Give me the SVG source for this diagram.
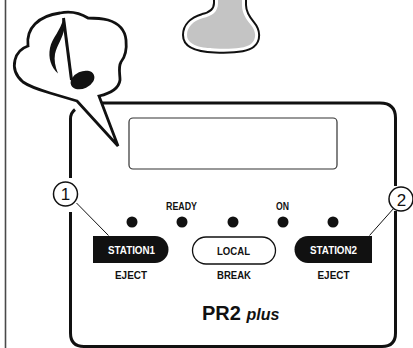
<svg xmlns="http://www.w3.org/2000/svg" width="413" height="348" viewBox="0 0 413 348">
  <defs>
    <style>
      .lbl { font-family: "Liberation Sans", Arial, sans-serif; font-weight: bold; font-size: 11px; text-anchor: middle; }
      .small { font-size: 10px; }
      .dot { fill: #111; }
      .num { font-family: "Liberation Sans", Arial, sans-serif; font-size: 17px; text-anchor: middle; fill: #111; }
      .callout { fill: #fff; stroke: #111; stroke-width: 1.5; }
      .leader { stroke: #111; stroke-width: 1; fill: none; }
    </style>
    <path id="body-shape" d="M 218,-6 L 218,3 C 218,12 212,16 203,18 C 193,21 187,27 187,35 C 187,44 198,48 215,48.5 C 228,49 245,49 251,44 C 257,39 256,31 251,25 C 246,19 242,13 242,5 L 242,-6 Z"/>
  </defs>

  <!-- frame line at the left edge -->
  <line x1="5.5" y1="0" x2="5.5" y2="348" stroke="#4a4a4a" stroke-width="1.6"/>

  <!-- guitar-body silhouette at the top -->
  <g id="guitar">
    <use href="#body-shape" fill="none" stroke="#111" stroke-width="10"/>
    <use href="#body-shape" fill="none" stroke="#fff" stroke-width="6"/>
    <use href="#body-shape" fill="#c4c4c4"/>
  </g>

  <!-- panel outline -->
  <g id="panel">
    <path d="M 75,109.5 Q 70.5,113 70.5,119 V 178 M 70.5,212 V 333 Q 70.5,346.5 84,346.5 H 382 Q 395.5,346.5 395.5,333 V 211 M 395.5,186 V 118 Q 395.5,103 380,103 H 96" fill="none" stroke="#111" stroke-width="3"/>
    <rect id="display" x="129" y="118" width="208" height="51" rx="4" fill="#fff" stroke="#333" stroke-width="1.2"/>
  </g>

  <!-- speech bubble with note -->
  <g id="bubble">
    <path d="M 77,101 C 70,99 60,96 50,93 C 40,90 30,87 23,82 C 16,76 13,68 15,60 C 17,52 22,48 28,46 C 27,38 29,30 35,24 C 42,17 52,14 60,13 C 70,11 80,13 88,18 C 94,18 100,18 108,20 C 118,23 125,30 126,40 C 127,50 125,57 121,62 C 118,67 120,74 120,80 C 119,88 112,93 99,96 L 118,146 Z" fill="#fff" stroke="#111" stroke-width="2.8" stroke-linejoin="miter"/>
    <line x1="63.5" y1="18" x2="71.5" y2="80" stroke="#111" stroke-width="3"/>
    <path d="M 63,19 C 61,30 52,38 50,48 C 48,58 51,67 58,73.5 C 55,66 54,60 55,54 C 57,45 63,38 64.5,28 Z" fill="#111"/>
    <ellipse cx="82.5" cy="80" rx="12.5" ry="8.5" transform="rotate(-25 82.5 80)" fill="#111"/>
  </g>

  <!-- indicator lamps -->
  <g id="lamps">
    <circle class="dot" cx="132" cy="222" r="5.5"/>
    <circle class="dot" cx="182" cy="222" r="5.5"/>
    <circle class="dot" cx="233" cy="222" r="5.5"/>
    <circle class="dot" cx="283" cy="222" r="5.5"/>
    <circle class="dot" cx="333" cy="222" r="5.5"/>
    <text class="lbl small" x="181.5" y="209.5" fill="#111" textLength="31" lengthAdjust="spacingAndGlyphs">READY</text>
    <text class="lbl small" x="282.5" y="209.5" fill="#111" textLength="13" lengthAdjust="spacingAndGlyphs">ON</text>
  </g>

  <!-- STATION1 button -->
  <g id="station1">
    <path d="M 93,236 H 155 A 13.5,13.5 0 0 1 155,263 H 93 Z" fill="#111"/>
    <text class="lbl" x="131.5" y="253.5" fill="#fff" textLength="47" lengthAdjust="spacingAndGlyphs">STATION1</text>
    <text class="lbl" x="131" y="278.5" fill="#111" textLength="32" lengthAdjust="spacingAndGlyphs">EJECT</text>
  </g>

  <!-- LOCAL button -->
  <g id="local">
    <rect x="192.5" y="237" width="83" height="27" rx="13.5" fill="#fff" stroke="#111" stroke-width="1.3"/>
    <text class="lbl" x="233.5" y="255" fill="#111" textLength="33" lengthAdjust="spacingAndGlyphs">LOCAL</text>
    <text class="lbl" x="234" y="278.5" fill="#111" textLength="34" lengthAdjust="spacingAndGlyphs">BREAK</text>
  </g>

  <!-- STATION2 button -->
  <g id="station2">
    <path d="M 372,236 H 308 A 13.5,13.5 0 0 0 308,263 H 372 Z" fill="#111"/>
    <text class="lbl" x="333.5" y="253.5" fill="#fff" textLength="47" lengthAdjust="spacingAndGlyphs">STATION2</text>
    <text class="lbl" x="333.5" y="278.5" fill="#111" textLength="32" lengthAdjust="spacingAndGlyphs">EJECT</text>
  </g>

  <!-- model name -->
  <g id="model">
    <text x="202" y="320" font-family="'Liberation Sans', Arial, sans-serif" font-weight="bold" fill="#111"><tspan font-size="20">PR2 </tspan><tspan font-size="16" font-style="italic">plus</tspan></text>
  </g>

  <!-- callout leaders -->
  <g id="connectors">
    <line class="leader" x1="76.5" y1="203" x2="108.5" y2="235.5"/>
    <line class="leader" x1="394" y1="208" x2="369.5" y2="235.5"/>
  </g>

  <!-- numbered callouts -->
  <g id="callout1">
    <circle class="callout" cx="65.5" cy="194" r="12"/>
    <text class="num" x="65.5" y="200">1</text>
  </g>
  <g id="callout2">
    <circle class="callout" cx="401" cy="199" r="12"/>
    <text class="num" x="401.5" y="205.5">2</text>
  </g>
</svg>
